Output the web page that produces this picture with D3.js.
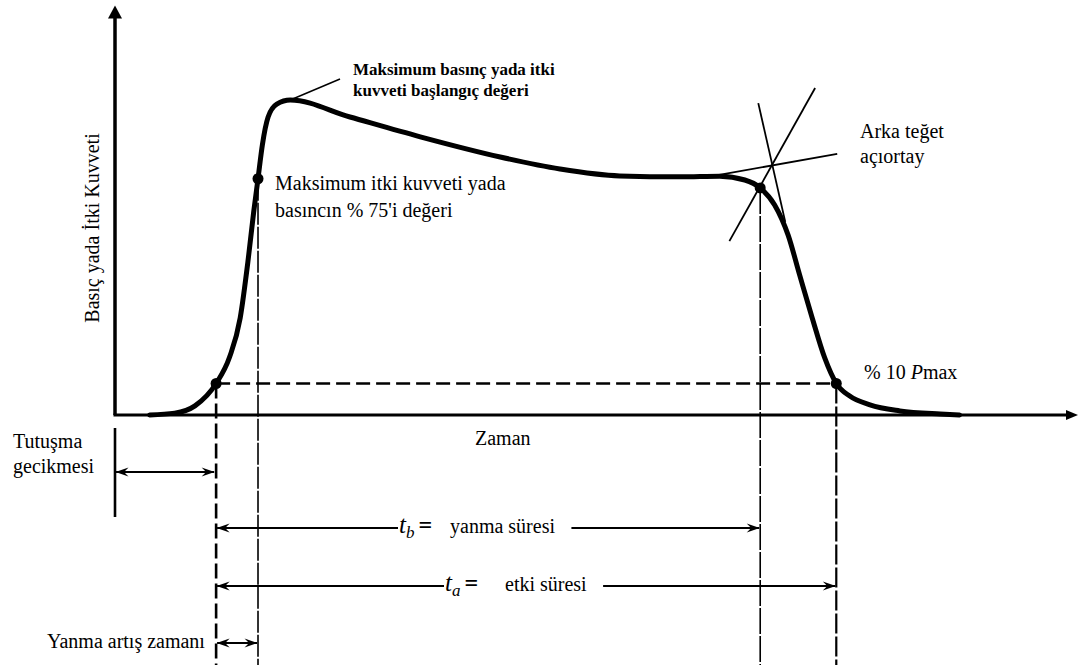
<!DOCTYPE html>
<html lang="tr">
<head>
<meta charset="utf-8">
<title>İtki Kuvveti – Zaman Eğrisi</title>
<script src="https://cdn.jsdelivr.net/npm/d3@7/dist/d3.min.js"></script>
<style>
  html, body { margin: 0; padding: 0; background: #fff; }
  svg { display: block; }
</style>
</head>
<body>
<svg id="chart" width="1083" height="666"></svg>
<script>
// Thrust / pressure curve (time in arbitrary units, pressure in % of Pmax)
const curveTime = [3.6, 6.2, 8.3, 10.5, 11.9, 13.0, 13.8, 14.4, 14.85, 15.3, 15.9, 16.8, 18.2,
                   24.4, 31.7, 40.0, 46.2, 52.4, 58.7, 62.8, 65.4, 67.0, 68.5, 69.9, 71.1,
                   72.4, 73.7, 74.9, 76.3, 78.4, 81.5, 85.7, 87.7];
const curvePressure = [0, 0.6, 2.9, 10, 18.4, 30.8, 48.6, 64.4, 75, 85.7, 94.6, 98.7, 100,
                       94.6, 88.3, 81.9, 78.1, 75.9, 75.6, 75.8, 74.6, 72.1, 66.7, 57.1, 44.4,
                       30.8, 18.1, 10, 6.0, 3.2, 1.3, 0.3, 0];

// Characteristic points: 10 % rise, 75 % rise, tail-off (bisector), 10 % fall
const markerTime = [10.5, 14.85, 67.0, 74.9];
const markerPressure = [10, 75, 72.1, 10];

// Peak of the curve (start value of maximum pressure)
const peakTime = 18.2;
const peakPressure = 100;

// Construction lines for the aft tangent bisector: [t0, p0, t1, p1]
const tangentPlateau = [62.3, 76.0, 75.0, 82.9];
const tangentFall = [66.8, 99.0, 69.6, 61.3];
const bisector = [72.7, 103.8, 63.8, 55.2];

const tenPercent = 10;

// ---------------------------------------------------------------
const FONT = '"Liberation Serif", "Times New Roman", Times, "DejaVu Serif", serif';
const svg = d3.select("#chart")
  .attr("font-family", FONT)
  .style("font-family", FONT);
const W = 1083, H = 666;

const x = d3.scaleLinear().domain([0, 100]).range([115, 1078]);
const y = d3.scaleLinear().domain([0, 100]).range([415, 100]);

const yTop = 130;          // top of the pressure axis (arrow tip)
const bottom = H - 1;      // lower end of the time reference lines

// Arrowhead (points along the line direction; reversed at the start)
const defs = svg.append("defs");
defs.append("marker")
  .attr("id", "barb")
  .attr("viewBox", "0 0 14 10")
  .attr("refX", 13).attr("refY", 5)
  .attr("markerWidth", 14).attr("markerHeight", 10)
  .attr("markerUnits", "userSpaceOnUse")
  .attr("orient", "auto-start-reverse")
  .append("path")
  .attr("d", "M13.5,5 L0.5,0.5 L5,5 L0.5,9.5 Z")
  .attr("fill", "#000");

// Axes
const axes = svg.append("g");
axes.append("line")
  .attr("x1", x(0)).attr("y1", y(0))
  .attr("x2", x(0)).attr("y2", y(yTop) + 10)
  .attr("stroke", "#000").attr("stroke-width", 3.5);
axes.append("path")
  .attr("d", `M${x(0)},${y(yTop)} L${x(0) + 7},${y(yTop) + 13} L${x(0) - 7},${y(yTop) + 13} Z`)
  .attr("fill", "#000");
axes.append("line")
  .attr("x1", x(0) - 1.5).attr("y1", y(0))
  .attr("x2", x(100) - 10).attr("y2", y(0))
  .attr("stroke", "#000").attr("stroke-width", 3);
axes.append("path")
  .attr("d", `M${x(100)},${y(0)} L${x(100) - 12},${y(0) - 5} L${x(100) - 12},${y(0) + 5} Z`)
  .attr("fill", "#000");

// Axis titles
svg.append("text")
  .attr("transform", `translate(99, 228) rotate(-90)`)
  .attr("text-anchor", "middle")
  .attr("font-size", 20)
  .text("Basıç yada İtki Kuvveti");
svg.append("text")
  .attr("x", 475).attr("y", 445)
  .attr("font-size", 20)
  .text("Zaman");

// 10 % Pmax level
svg.append("line")
  .attr("x1", x(markerTime[0])).attr("y1", y(tenPercent))
  .attr("x2", x(markerTime[3])).attr("y2", y(tenPercent))
  .attr("stroke", "#000").attr("stroke-width", 2.5)
  .attr("stroke-dasharray", "14,6");

// Vertical time references from each characteristic point
const vStyles = [
  { w: 2.6, dash: "15,5" },
  { w: 1.6, dash: "22,2" },
  { w: 1.6, dash: "26,2" },
  { w: 2.2, dash: "20,3" }
];
svg.append("g").selectAll("line")
  .data(markerTime)
  .join("line")
  .attr("x1", d => x(d)).attr("x2", d => x(d))
  .attr("y1", (d, i) => y(markerPressure[i]))
  .attr("y2", bottom)
  .attr("stroke", "#000")
  .attr("stroke-width", (d, i) => vStyles[i].w)
  .attr("stroke-dasharray", (d, i) => vStyles[i].dash);

// Tangent construction
svg.append("g").selectAll("line")
  .data([tangentPlateau, tangentFall, bisector])
  .join("line")
  .attr("x1", d => x(d[0])).attr("y1", d => y(d[1]))
  .attr("x2", d => x(d[2])).attr("y2", d => y(d[3]))
  .attr("stroke", "#000").attr("stroke-width", 1.8);

// Main curve
const line = d3.line()
  .x((d, i) => x(curveTime[i]))
  .y(d => y(d))
  .curve(d3.curveMonotoneX);
svg.append("path")
  .datum(curvePressure)
  .attr("d", line)
  .attr("fill", "none")
  .attr("stroke", "#000")
  .attr("stroke-width", 5)
  .attr("stroke-linejoin", "round")
  .attr("stroke-linecap", "round");

// Characteristic point dots
svg.append("g").selectAll("circle")
  .data(markerTime)
  .join("circle")
  .attr("cx", d => x(d))
  .attr("cy", (d, i) => y(markerPressure[i]))
  .attr("r", 5.5)
  .attr("fill", "#000");

// Leader to the peak annotation
svg.append("line")
  .attr("x1", x(peakTime)).attr("y1", y(peakPressure))
  .attr("x2", 340).attr("y2", 79)
  .attr("stroke", "#000").attr("stroke-width", 1.5);

// Annotations on the curve
const bold = svg.append("text").attr("font-size", 17).attr("font-weight", "bold");
bold.append("tspan").attr("x", 353).attr("y", 75).text("Maksimum basınç yada itki");
bold.append("tspan").attr("x", 353).attr("y", 96).text("kuvveti başlangıç değeri");

const riseY = y(markerPressure[1]) + 11;
const rise = svg.append("text").attr("font-size", 20);
rise.append("tspan").attr("x", x(markerTime[1]) + 17).attr("y", riseY).text("Maksimum itki kuvveti yada");
rise.append("tspan").attr("x", x(markerTime[1]) + 17).attr("y", riseY + 27).text("basıncın % 75'i değeri");

const aft = svg.append("text").attr("font-size", 20);
aft.append("tspan").attr("x", 860).attr("y", 138).text("Arka teğet");
aft.append("tspan").attr("x", 860).attr("y", 163).text("açıortay");

const pm = svg.append("text").attr("x", 864).attr("y", 379).attr("font-size", 20);
pm.append("tspan").text("% 10 ");
pm.append("tspan").attr("font-style", "italic").text("P");
pm.append("tspan").text("max");

// Lower time intervals
const rowIgnition = 472, rowBurn = 528, rowAction = 586, rowRise = 643;

// ignition delay bracket
svg.append("line")
  .attr("x1", x(0)).attr("x2", x(0))
  .attr("y1", 428).attr("y2", 517)
  .attr("stroke", "#000").attr("stroke-width", 2.6);

function arrow(x1, x2, yy, startHead, endHead) {
  const l = svg.append("line")
    .attr("x1", x1).attr("x2", x2).attr("y1", yy).attr("y2", yy)
    .attr("stroke", "#000").attr("stroke-width", 2);
  if (startHead) l.attr("marker-start", "url(#barb)");
  if (endHead) l.attr("marker-end", "url(#barb)");
}

arrow(x(0) + 1, x(markerTime[0]) - 2, rowIgnition, true, true);
arrow(x(markerTime[0]) + 1, x(markerTime[1]) - 1, rowRise, true, true);

const ign = svg.append("text").attr("font-size", 20);
ign.append("tspan").attr("x", 13).attr("y", 448).text("Tutuşma");
ign.append("tspan").attr("x", 13).attr("y", 473).text("gecikmesi");

svg.append("text").attr("x", 47).attr("y", 648).attr("font-size", 20)
  .text("Yanma artış zamanı");

// Interval with a label in the middle of its arrow
function labelledInterval(t0, t1, yy, sub, textX, restX, rest) {
  const txt = svg.append("text").attr("y", yy + 5);
  txt.append("tspan").attr("x", textX).attr("font-size", 25).attr("font-style", "italic").text("t");
  txt.append("tspan").attr("font-size", 17).attr("font-style", "italic").attr("dy", 5).text(sub);
  txt.append("tspan").attr("font-size", 24).attr("font-weight", "bold").attr("dy", -5).attr("dx", 4).text("=");
  txt.append("tspan").attr("x", restX).attr("font-size", 20).text(rest);
  const bb = txt.node().getBBox();
  arrow(x(t0) + 1, textX - 1, yy, true, false);
  arrow(bb.x + bb.width + 16, x(t1) - 1, yy, false, true);
}

labelledInterval(markerTime[0], markerTime[2], rowBurn, "b", 399, 450, "yanma süresi");
labelledInterval(markerTime[0], markerTime[3], rowAction, "a", 445, 505, "etki süresi");
</script>
</body>
</html>
